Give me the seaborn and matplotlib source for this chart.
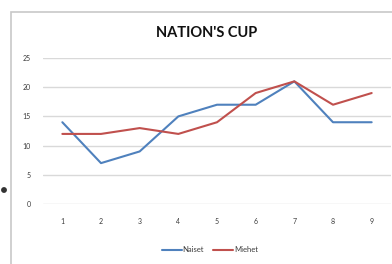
import numpy as np
import pandas as pd
import seaborn as sns
from matplotlib import pyplot as plt
from matplotlib.patches import Rectangle, Circle

rounds = [1, 2, 3, 4, 5, 6, 7, 8, 9]
naiset = [14, 7, 9, 15, 17, 17, 21, 14, 14]
miehet = [12, 12, 13, 12, 14, 19, 21, 17, 19]
series_names = ["Naiset", "Miehet"]
yticks = [0, 5, 10, 15, 20, 25]
colors = ["#4f81bd", "#c0504d"]

df = pd.DataFrame({"round": rounds * 2,
                   "points": naiset + miehet,
                   "series": [series_names[0]] * 9 + [series_names[1]] * 9})

sns.set_theme(style="white")
plt.rcParams["font.family"] = ["Lato", "DejaVu Sans"]

fig = plt.figure(figsize=(3.92, 2.64), dpi=100)
fig.patch.set_facecolor("white")
# chart frame
fig.patches.append(Rectangle((11 / 392, -0.1), 1.1, 1 - 12 / 264 + 0.1,
                             transform=fig.transFigure, fill=False,
                             edgecolor="#c8c8c8", linewidth=1.2))
fig.patches.append(Circle((4, 74), 2.2, transform=None, color="#333333"))

ax = fig.add_axes((43 / 392, 60 / 264, 348 / 392, 146 / 264))
sns.lineplot(data=df, x="round", y="points", hue="series",
             palette=colors, linewidth=1.5, ax=ax, legend=False)

ax.set_xlim(0.5, 9.5)
ax.set_ylim(0, 25)
ax.set_yticks(yticks)
ax.set_xticks(rounds)
ax.tick_params(axis="both", length=0, labelsize=5, labelcolor="#3a3a3a", pad=10)
ax.tick_params(axis="y", pad=9)
ax.yaxis.grid(True, color="#d9d9d9", linewidth=1)
for s in ax.spines.values():
    s.set_visible(False)
ax.set_xlabel("")
ax.set_ylabel("")

fig.text(207 / 392, 1 - 33 / 264, "NATION'S CUP", ha="center", va="center",
         fontsize=10.5, fontweight="bold", color="#111111")

handles = [plt.Line2D([], [], color=c, linewidth=1.5) for c in colors]
fig.legend(handles, series_names, loc="center", bbox_to_anchor=(210 / 392, 1 - 250 / 264),
           ncol=2, frameon=False, fontsize=5.5, handlelength=2.6, handletextpad=0.1,
           columnspacing=1.2, labelcolor="#3a3a3a")

fig.savefig("out.png", dpi=100)
